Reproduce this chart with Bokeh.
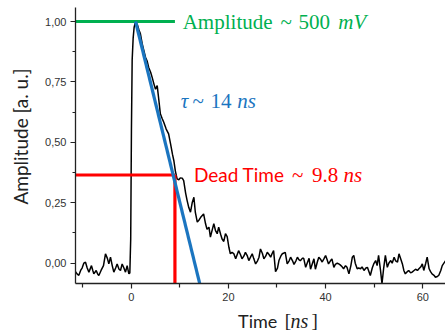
import math
from bokeh.plotting import figure
from bokeh.models import Range1d, FixedTicker, CustomJSTickFormatter, Label
from bokeh.embed import file_html
from bokeh.resources import INLINE

# ---------------- data ----------------
time_ns = [
    -11.46, -11.1, -10.77, -10.4, -10.1, -9.75, -9.4, -9.05, -8.7, -8.17, -7.9, -7.69, -7.2, -6.9, -6.66,
    -6.2, -5.7, -5.29, -4.9, -4.6, -4.26, -3.9, -3.57, -3.2, -2.89, -2.5, -2.2, -1.86, -1.5, -1.17, -0.83,
    -0.48, -0.28,
    -0.1, 0.05, 0.2, 0.4, 0.6, 0.9,
    1.3, 1.6, 1.9, 2.26, 2.6, 2.94, 3.3, 3.6, 4.0, 4.3, 4.7, 5.0, 5.35, 5.7, 6.0, 6.35, 6.7, 7.2, 7.7, 8.1,
    8.5, 8.77, 9.1, 9.45, 9.8, 10.1, 10.5, 10.8, 11.2, 11.5, 11.85, 12.2, 12.55, 12.9, 13.2, 13.6, 14.0,
    14.3, 14.9, 15.3, 15.6, 16.0, 16.3, 16.7, 17.0, 17.35, 17.7, 18.0, 18.4, 18.7, 19.05, 19.4, 19.75,
    20.1, 20.4, 20.75, 21.1, 21.5, 22.1, 22.5, 22.8, 23.2, 23.5, 23.9, 24.2, 24.9, 25.2, 25.6, 26.0, 26.3,
    26.6, 27.0, 27.3, 27.7, 28.0, 28.4, 28.7, 29.0, 29.3, 29.7, 30.1, 30.4, 30.8, 31.1, 31.7, 32.1, 32.5,
    32.8, 33.2, 33.5, 33.9, 34.2, 34.5, 34.8, 35.2, 35.5, 35.9, 36.3, 36.6, 36.9, 37.3, 37.6, 37.9, 38.3,
    38.6, 39.0, 39.3, 39.7, 40.0, 40.3, 40.6, 41.0, 41.3, 41.7, 42.0, 42.4, 42.7, 43.0, 43.4, 43.7, 44.1,
    44.4, 44.8, 45.2, 45.5, 45.8, 46.1, 46.5, 46.8, 47.2, 47.5, 47.9, 48.3, 48.6, 49.2, 49.6, 49.9, 50.3,
    50.6, 50.9, 51.3, 51.6, 51.95, 52.3, 52.7, 53.0, 53.4, 53.7, 54.1, 54.4, 54.8, 55.1, 55.5, 55.8, 56.1,
    56.4, 56.8, 57.1, 57.5, 57.8, 58.2, 58.5, 58.9, 59.2, 59.6, 59.9, 60.2, 60.6, 60.9, 61.3, 61.6, 61.9,
    62.3, 62.6, 63.0, 63.3, 63.7, 64.0, 64.7,
]
amplitude = [
    -0.035, -0.045, -0.05, -0.03, -0.02, 0.0, 0.004, -0.02, -0.037, -0.01, -0.03, -0.044, -0.03, -0.045, -0.051,
    -0.03, -0.01, 0.039, 0.02, -0.003, 0.025, -0.01, -0.037, -0.02, -0.003, -0.025, -0.03, -0.003, -0.02, -0.037, -0.01,
    -0.044, -0.04,
    0.1, 0.55, 0.84, 0.93, 0.975, 1.0,
    0.985, 0.965, 0.949, 0.908, 0.88, 0.852, 0.835, 0.81, 0.79, 0.77, 0.74, 0.72, 0.735, 0.673, 0.618, 0.6, 0.583, 0.555, 0.535, 0.494,
    0.45, 0.425, 0.38, 0.349, 0.345, 0.353, 0.352, 0.342, 0.29, 0.26, 0.23, 0.211, 0.25, 0.273, 0.21, 0.17, 0.18,
    0.19, 0.204, 0.163, 0.14, 0.149, 0.108, 0.14, 0.163, 0.135, 0.122, 0.149, 0.12, 0.1, 0.09, 0.122, 0.11,
    0.066, 0.039, 0.045, 0.04, 0.018, 0.052, 0.035, 0.018, 0.03, 0.045, 0.03, 0.011, 0.039, 0.02, -0.003, 0.01, 0.025,
    0.059, 0.04, 0.018, 0.03, 0.045, 0.035, 0.025, 0.04, 0.052, -0.035, -0.02, 0.011, 0.03, 0.039, 0.045, -0.003, 0.01,
    0.025, 0.01, -0.005, 0.01, 0.025, 0.015, 0.01, 0.02, 0.02, -0.017, 0.005, 0.02, -0.025, 0.0, 0.018, -0.025, 0.005,
    0.025, 0.015, 0.005, 0.02, 0.032, 0.015, -0.003, 0.01, 0.018, -0.017, -0.005, 0.0, -0.003, -0.007, -0.015, -0.023, -0.01,
    -0.017, -0.044, -0.01, 0.025, 0.032, 0.0, -0.023, -0.02, -0.023, -0.015, -0.03, -0.02, -0.017, -0.051, -0.02, -0.003, 0.011,
    -0.01, 0.032, -0.03, -0.085, -0.02, 0.032, -0.017, 0.0, 0.011, 0.0, 0.025, 0.01, 0.005, 0.039, 0.015, -0.003, -0.03,
    -0.044, -0.035, -0.03, -0.04, -0.037, -0.03, -0.025, -0.03, -0.023, -0.015, -0.003, -0.03, 0.0, 0.025, -0.023, -0.035, -0.044,
    -0.05, -0.058, -0.055, -0.05, -0.03, -0.01, 0.011,
]

peak_amplitude = 1.0
dead_time = 9.0
dead_level = 0.365
tangent_x = [0.9, 14.1]
tangent_y = [1.0, -0.084]

x_ticks = [0, 20, 40, 60]
x_minor = [-10, 10, 30, 50]
y_ticks = [0.0, 0.25, 0.5, 0.75, 1.0]
y_minor = [0.125, 0.375, 0.625, 0.875]

# axis extents (data units)
X_MIN, X_MAX = -11.46, 64.7
Y_MIN, Y_MAX = -0.084, 1.058
# full canvas view (so that titles sit inside the plotting area)
VIEW_X = (-26.89, 64.67)
VIEW_Y = (-0.2867, 1.0869)

GREEN = "#00b050"
RED = "#ff0000"
BLUE = "#1b75c0"
INK = "#222222"

p = figure(width=445, height=332, x_range=Range1d(*VIEW_X), y_range=Range1d(*VIEW_Y),
           output_backend="svg", toolbar_location=None, min_border=0)
p.outline_line_color = None
p.xgrid.visible = False
p.ygrid.visible = False
p.background_fill_color = "white"
p.border_fill_color = "white"

for ax in (p.xaxis[0], p.yaxis[0]):
    ax.axis_line_color = INK
    ax.axis_line_width = 1.3
    ax.major_tick_line_color = INK
    ax.minor_tick_line_color = INK
    ax.major_tick_line_width = 1.2
    ax.minor_tick_line_width = 1.2
    ax.major_tick_in = 0
    ax.major_tick_out = 5
    ax.minor_tick_in = 0
    ax.major_label_text_font = "Liberation Sans"
    ax.major_label_text_font_size = "11px"
    ax.major_label_text_color = "#333333"

p.xaxis[0].ticker = FixedTicker(ticks=x_ticks, minor_ticks=x_minor)
p.xaxis[0].minor_tick_out = 4
p.xaxis[0].major_label_standoff = 4
p.xaxis[0].fixed_location = Y_MIN
p.xaxis[0].bounds = (X_MIN, X_MAX)

p.yaxis[0].ticker = FixedTicker(ticks=y_ticks, minor_ticks=y_minor)
p.yaxis[0].minor_tick_out = 3
p.yaxis[0].major_label_standoff = 4
p.yaxis[0].formatter = CustomJSTickFormatter(code="return tick.toFixed(2).replace('.', ',');")
p.yaxis[0].fixed_location = X_MIN
p.yaxis[0].bounds = (Y_MIN, Y_MAX)

# signal
p.line(time_ns, amplitude, line_color="black", line_width=1.5)
# amplitude marker
p.line([X_MIN, dead_time], [peak_amplitude, peak_amplitude], line_color=GREEN, line_width=3.2)
# dead time markers
p.line([X_MIN, dead_time], [dead_level, dead_level], line_color=RED, line_width=3.2)
p.line([dead_time, dead_time], [dead_level, Y_MIN], line_color=RED, line_width=3.2)
# tangent
p.line(tangent_x, tangent_y, line_color=BLUE, line_width=3.2)

def lab(x, y, text, color, font, size, style="normal", align="left", angle=0.0):
    p.add_layout(Label(x=x, y=y, text=text, text_color=color, text_font=font,
                       text_font_size=size, text_font_style=style, text_align=align,
                       text_baseline="middle", angle=angle))

SERIF = "Liberation Serif"
SANS = "Lato"

# Amplitude ~ 500 mV
ya = 0.996
lab(10.6, ya, "Amplitude", GREEN, SERIF, "21px")
lab(30.7, ya, "~", GREEN, SERIF, "21px")
lab(34.4, ya, "500", GREEN, SERIF, "21px")
lab(42.6, ya, "mV", GREEN, SERIF, "21px", style="italic")

# tau ~ 14 ns
yb = 0.673
lab(10.2, yb, "τ", BLUE, SERIF, "21px", style="italic")
lab(12.6, yb, "~", BLUE, SERIF, "21px")
lab(16.3, yb, "14", BLUE, SERIF, "21px")
lab(21.8, yb, "ns", BLUE, SERIF, "21px", style="italic")

# Dead Time ~ 9.8 ns
yr = 0.367
lab(12.9, yr, "Dead Time", RED, SANS, "19px")
lab(33.1, yr, "~", RED, SERIF, "21px")
lab(37.2, yr, "9.8", RED, SERIF, "21px")
lab(43.7, yr, "ns", RED, SERIF, "21px", style="italic")

# x axis title
yt = -0.238
lab(22.0, yt, "Time", INK, SANS, "18px")
lab(31.6, yt, "[", INK, SERIF, "19px")
lab(32.8, yt, "ns", INK, SERIF, "20px", style="italic")
lab(37.1, yt, "]", INK, SERIF, "19px")

# y axis title
lab(-22.8, 0.524, "Amplitude [a. u.]", INK, SANS, "19px", align="center", angle=math.pi / 2)

open("out.html", "w").write(file_html(p, INLINE))
